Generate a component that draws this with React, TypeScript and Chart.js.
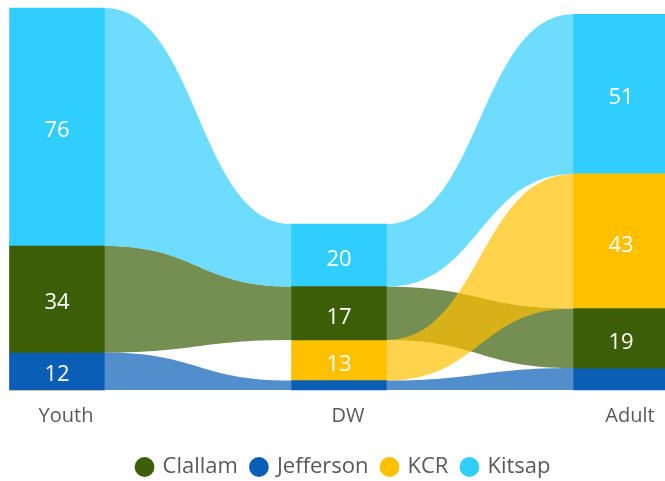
import React, { useEffect, useRef } from "react";
import { Chart, registerables } from "chart.js";

Chart.register(...registerables);

const categories = ["Youth", "DW", "Adult"];
const seriesNames = ["Clallam", "Jefferson", "KCR", "Kitsap"];
const clallam = [34, 17, 19];
const jefferson = [12, 3, 7];
const kcr = [0, 13, 43];
const kitsap = [76, 20, 51];
const seriesValues = [clallam, jefferson, kcr, kitsap];
const seriesColors = ["#3B5E07", "#0A5EB6", "#FFC000", "#30CDFF"];
const flowColors = [
  "rgba(59,94,7,0.7)",
  "rgba(10,94,182,0.7)",
  "rgba(255,192,0,0.7)",
  "rgba(48,205,255,0.7)",
];
const yMax = 122;
const FONT = "'Open Sans', 'Noto Sans', sans-serif";

// floating ranges: in each column, series stacked in ascending order of value from the bottom
function buildRanges(): [number, number][][] {
  const ranges: [number, number][][] = seriesValues.map(() => []);
  categories.forEach((_, c) => {
    const order = seriesValues
      .map((vals, s) => ({ s, v: vals[c] }))
      .sort((a, b) => a.v - b.v);
    let acc = 0;
    order.forEach(({ s, v }) => {
      ranges[s][c] = [acc, acc + v];
      acc += v;
    });
  });
  return ranges;
}

const sankeyPlugin = {
  id: "sankeyFlows",
  afterLayout(chart: any) {
    if (chart.legend) {
      chart.legend.left += 5;
      chart.legend.right += 5;
    }
  },
  beforeDatasetsDraw(chart: any) {
    const ctx = chart.ctx;
    ctx.save();
    chart.data.datasets.forEach((_: any, s: number) => {
      const meta = chart.getDatasetMeta(s);
      for (let c = 0; c < categories.length - 1; c++) {
        if (seriesValues[s][c] <= 0 || seriesValues[s][c + 1] <= 0) continue;
        const a = meta.data[c].getProps(["x", "y", "base", "width"], true);
        const b = meta.data[c + 1].getProps(["x", "y", "base", "width"], true);
        const x0 = a.x + a.width / 2;
        const x1 = b.x - b.width / 2;
        const t0 = Math.min(a.y, a.base);
        const b0 = Math.max(a.y, a.base);
        const t1 = Math.min(b.y, b.base);
        const b1 = Math.max(b.y, b.base);
        const mx = (x0 + x1) / 2;
        ctx.fillStyle = flowColors[s];
        ctx.beginPath();
        ctx.moveTo(x0, t0);
        ctx.bezierCurveTo(mx, t0, mx, t1, x1, t1);
        ctx.lineTo(x1, b1);
        ctx.bezierCurveTo(mx, b1, mx, b0, x0, b0);
        ctx.closePath();
        ctx.fill();
      }
    });
    ctx.restore();
  },
  afterDatasetsDraw(chart: any) {
    const ctx = chart.ctx;
    ctx.save();
    ctx.fillStyle = "#FFFFFF";
    ctx.font = `22px ${FONT}`;
    ctx.textAlign = "center";
    ctx.textBaseline = "middle";
    chart.data.datasets.forEach((_: any, s: number) => {
      const meta = chart.getDatasetMeta(s);
      meta.data.forEach((el: any, c: number) => {
        const p = el.getProps(["x", "y", "base"], true);
        const h = Math.abs(p.base - p.y);
        if (h < 30) return;
        ctx.fillText(String(seriesValues[s][c]), p.x, (p.y + p.base) / 2 + 4);
      });
    });
    ctx.restore();
  },
};

export default function App() {
  const canvasRef = useRef<HTMLCanvasElement | null>(null);

  useEffect(() => {
    if (!canvasRef.current) return;
    const ranges = buildRanges();
    const chart = new Chart(canvasRef.current, {
      type: "bar",
      data: {
        labels: categories,
        datasets: seriesNames.map((name, s) => ({
          label: name,
          data: ranges[s] as any,
          backgroundColor: seriesColors[s],
          borderWidth: 0,
          barThickness: 95,
          clip: false as any,
        })),
      },
      options: {
        animation: false,
        responsive: false,
        maintainAspectRatio: false,
        layout: { padding: { left: 57, right: 44, top: 8, bottom: -7 } },
        scales: {
          x: {
            stacked: true,
            offset: false,
            grid: { display: false },
            border: { display: false },
            ticks: {
              color: "#595959",
              font: { size: 20, family: FONT, lineHeight: 1.35 },
              padding: 5,
              labelOffset: 9,
            },
            afterFit: (scale: any) => {
              scale.height += 7;
            },
          },
          y: {
            display: false,
            stacked: false,
            min: 0,
            max: yMax,
          },
        },
        plugins: {
          legend: {
            position: "bottom",
            labels: {
              usePointStyle: true,
              pointStyle: "circle",
              boxWidth: 14,
              boxHeight: 14,
              color: "#595959",
              font: { size: 22, family: FONT },
              padding: 14,
            },
          },
          tooltip: { enabled: false },
        },
      },
      plugins: [sankeyPlugin],
    });
    return () => chart.destroy();
  }, []);

  return (
    <div style={{ position: "absolute", left: 0, top: 0, width: 665, height: 481 }}>
      <canvas ref={canvasRef} width={665} height={481} style={{ width: 665, height: 481 }} />
    </div>
  );
}
